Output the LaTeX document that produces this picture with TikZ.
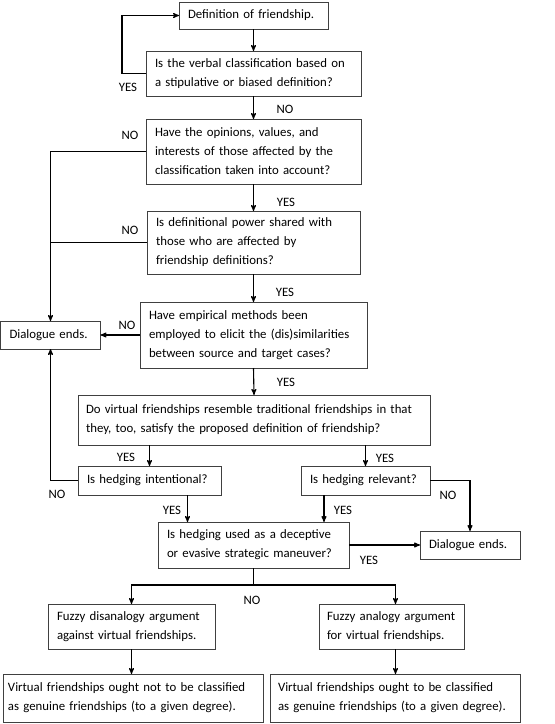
\documentclass[tikz,border=0pt]{standalone}
\usepackage{fontspec}
\setmainfont{Carlito}
\usepackage{tikz}
\usetikzlibrary{positioning}
\usetikzlibrary{shapes,arrows,calc}
\definecolor{boxgray}{RGB}{64,64,64}
\tikzset{
    %Define standard arrow tip
    >=stealth',
    % Define arrow style
    pil/.style={
           ->,
           line width=1.1pt,},
    lin/.style={
           line width=1.1pt,}
}
\newcommand{\boxfont}{\fontsize{12.8}{19}\selectfont}

\begin{document}
\begin{tikzpicture}[x=1pt, y=-1pt, outer sep = 0pt]
\tikzstyle{box}=[draw=boxgray, line width=0.8pt, rectangle, fill=white, anchor=north west, inner xsep=9pt, inner ysep=0pt, align=left, font=\boxfont]
\tikzstyle{lbl}=[inner sep=0pt, font=\boxfont]

\useasboundingbox (0,0) rectangle (555,724);

\node[box, minimum width=149pt, minimum height=27pt, text width=131pt] (def) at(179,2) {Definition of friendship.};
\node[box, minimum width=215pt, minimum height=45pt, text width=197pt] (verbal) at(146,51) {Is the verbal classification based on\\a stipulative or biased definition?};
\node[box, minimum width=215pt, minimum height=65pt, text width=197pt] (opinions) at(146,119) {Have the opinions, values, and\\interests of those affected by the\\classification taken into account?};
\node[box, minimum width=213pt, minimum height=63pt, text width=195pt] (power) at(147,211) {Is definitional power shared with\\those who are affected by\\friendship definitions?};
\node[box, minimum width=227pt, minimum height=66pt, text width=209pt] (empirical) at(140,302) {Have empirical methods been\\employed to elicit the (dis)similarities\\between source and target cases?};
\node[box, minimum width=100pt, minimum height=28pt, text width=82pt] (endL) at(0.5,321) {Dialogue ends.};
\node[box, minimum width=352pt, minimum height=50pt, text width=336pt, inner xsep=8pt] (resemble) at(78,395) {Do virtual friendships resemble traditional friendships in that\\they, too, satisfy the proposed definition of friendship?};
\node[box, minimum width=143pt, minimum height=29pt, text width=125pt] (intent) at(78,466) {Is hedging intentional?};
\node[box, minimum width=129pt, minimum height=29pt, text width=111pt] (relev) at(301,466) {Is hedging relevant?};
\node[box, minimum width=191pt, minimum height=46pt, text width=173pt] (decep) at(158,522) {Is hedging used as a deceptive\\or evasive strategic maneuver?};
\node[box, minimum width=100pt, minimum height=28pt, text width=82pt] (endR) at(420,531) {Dialogue ends.};
\node[box, minimum width=167pt, minimum height=45pt, text width=149pt] (disan) at(48,604) {Fuzzy disanalogy argument\\against virtual friendships.};
\node[box, minimum width=145pt, minimum height=45pt, text width=129pt, inner xsep=8pt] (analog) at(319,604) {Fuzzy analogy argument\\for virtual friendships.};
\node[box, minimum width=260pt, minimum height=48pt, text width=250pt, inner xsep=5pt] (oughtnot) at(3,674) {Virtual friendships ought not to be classified\\as genuine friendships (to a given degree).};
\node[box, minimum width=250pt, minimum height=48pt, text width=234pt, inner xsep=8pt] (ought) at(270,674) {Virtual friendships ought to be classified\\as genuine friendships (to a given degree).};

\coordinate (split) at ($(decep.south)+(0,17)$);

\path[pil,->] (def.south) edge (verbal.north);
\draw[pil,->] (verbal.west) -- ++(-24,0) |- (def.west);
\path[pil,->] (verbal.south) edge (opinions.north);
\path[pil,->] (opinions.south) edge (power.north);
\path[pil,->] (power.south) edge (empirical.north);
\path[pil,->] (empirical.south) edge (resemble.north);
\draw[pil,->] (opinions.west) -| (endL.north);
\draw[lin] (power.west) -- (power.west -| endL.north);
\path[pil,->] (empirical.west) edge (endL.east);

\path[pil,->] (intent.north |- resemble.south) edge (intent.north);
\path[pil,->] (relev.north |- resemble.south) edge (relev.north);
\draw[pil,->] (intent.west) -| (endL.south);
\draw[pil,->] (relev.east) -| (endR.north);
\path[pil,->] ([xshift=38pt]intent.south) edge ([xshift=38pt]intent.south |- decep.north);
\path[pil,->] ([xshift=-41.5pt]relev.south) edge ([xshift=-41.5pt]relev.south |- decep.north);
\path[pil,->] (decep.east) edge (endR.west);

\draw[lin] (decep.south) -- (split);
\draw[pil,->] (split) -| (disan.north);
\draw[pil,->] (split) -| ([xshift=4pt]analog.north);
\path[pil,->] (disan.south) edge (disan.south |- oughtnot.north);
\path[pil,->] ([xshift=4pt]analog.south) edge ([xshift=4pt]analog.south |- ought.north);

% answers
\node[lbl] (yes0) at(128,87) {YES};
\node[lbl] (no0) at(285,109) {NO};
\node[lbl] (no1) at(130,135) {NO};
\node[lbl] (yes1) at(286,202) {YES};
\node[lbl] (no2) at(130,230) {NO};
\node[lbl] (yes2) at(285,292) {YES};
\node[lbl] (no3) at(127,325) {NO};
\node[lbl] (yes3) at(286,382) {YES};
\node[lbl] (yes4) at(126,457) {YES};
\node[lbl] (yes5) at(385,458) {YES};
\node[lbl] (no4) at(57,494) {NO};
\node[lbl] (yes6) at(172,510) {YES};
\node[lbl] (yes7) at(343,510) {YES};
\node[lbl] (no5) at(448,495) {NO};
\node[lbl] (yes8) at(369,560) {YES};
\node[lbl] (no6) at(252,600) {NO};

\end{tikzpicture}
\end{document}
